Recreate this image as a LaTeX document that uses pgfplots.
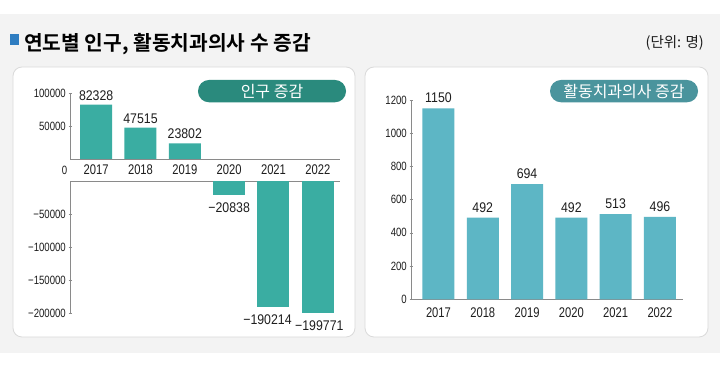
\documentclass[border=0pt]{standalone}
\usepackage{pgfplots}
\pgfplotsset{compat=1.18}
\usepackage{fontspec}
\setmainfont{Liberation Sans}
\newfontfamily\cjk{Noto Sans CJK KR}[BoldFont={Noto Sans CJK KR Bold}]
\newfontfamily\tickfam{Liberation Sans}[FakeStretch=0.8]
\newfontfamily\labfam{Liberation Sans}[FakeStretch=0.88]
\newcommand\tickf{\tickfam\fontsize{12}{12}\selectfont}
\newcommand\yearf{\tickfam\fontsize{14}{14}\selectfont}
\newcommand\labf{\labfam\fontsize{14}{14}\selectfont}

\definecolor{bgc}{HTML}{F3F3F3}
\definecolor{bord}{HTML}{DADADA}
\definecolor{tealA}{HTML}{3AADA2}
\definecolor{pillA}{HTML}{2A8A7D}
\definecolor{tealB}{HTML}{5DB6C5}
\definecolor{pillB}{HTML}{4A949D}
\definecolor{titleblue}{HTML}{2F7DC1}
\definecolor{axg}{HTML}{8A8A8A}
\definecolor{txt}{HTML}{1E1E1E}

\pgfplotsset{
  myax/.style={
    scale only axis, anchor=south west, clip=false,
    tick style={axg, line width=0.7pt},
    tick align=outside, major tick length=3pt,
    xtick style={draw=none},
    scaled y ticks=false,
    yticklabel style={font=\tickf, text=txt, inner sep=2.5pt},
    xticklabel style={font=\yearf, text=txt, anchor=north, inner sep=0pt},
    point meta=explicit symbolic,
  },
  noarrows/.style={
    axis line style={-, axg, line width=0.8pt},
    every outer x axis line/.append style={-},
    every outer y axis line/.append style={-},
    every inner x axis line/.append style={-},
    every inner y axis line/.append style={-},
    x axis line style={-}, y axis line style={-},
  },
  barA/.style={ybar, bar width=32pt, bar shift=0pt, fill=tealA, draw=none,
    nodes near coords, nodes near coords style={font=\labf, text=txt, inner sep=0pt}},
  barB/.style={ybar, bar width=32pt, bar shift=0pt, fill=tealB, draw=none,
    nodes near coords, nodes near coords style={font=\labf, text=txt, inner sep=0pt, anchor=south, yshift=5pt}},
}

\begin{document}
\begin{tikzpicture}
\path[use as bounding box] (0pt,0pt) rectangle (720pt,371pt);
\fill[white] (0pt,0pt) rectangle (720pt,371pt);
\fill[bgc] (0pt,18pt) rectangle (720pt,357pt);
\filldraw[fill=white, draw=bord, line width=0.8pt, rounded corners=9pt] (13pt,34pt) rectangle (355pt,304pt);
\filldraw[fill=white, draw=bord, line width=0.8pt, rounded corners=9pt] (365pt,34pt) rectangle (708pt,304pt);
\fill[titleblue] (10pt,326pt) rectangle (19pt,337pt);
\node[anchor=base west, inner sep=0pt, font=\cjk\bfseries\fontsize{20.3}{20.3}\selectfont, text=black] at (24pt,320.5pt) {연도별 인구, 활동치과의사 수 증감};
\node[anchor=east, inner sep=0pt, font=\cjk\fontsize{14.5}{14.5}\selectfont, text=txt] at (704pt,328pt) {(단위: 명)};
\fill[pillA, rounded corners=11pt] (198pt,268.7pt) rectangle (346pt,291pt);
\node[inner sep=0pt, font=\cjk\fontsize{16}{16}\selectfont, text=white] at (272pt,279.8pt) {인구 증감};
\fill[pillB, rounded corners=11pt] (550pt,268.7pt) rectangle (698pt,291pt);
\node[inner sep=0pt, font=\cjk\fontsize{16}{16}\selectfont, text=white] at (624pt,279.8pt) {활동치과의사 증감};

% left upper
\begin{axis}[myax, at={(70pt,212pt)}, width=270pt, height=66pt,
  xmin=-0.59, xmax=5.5, ymin=0, ymax=100000,
  axis x line=bottom, axis y line=left, noarrows,
  xtick={0,1,2,3,4,5}, xticklabels={2017,2018,2019,2020,2021,2022},
  xticklabel style={yshift=-4pt},
  ytick={50000,100000}, yticklabels={50000,100000},
  extra y ticks={0}, extra y tick labels={0},
  extra y tick style={major tick length=0pt, yticklabel style={yshift=-11pt}},
]
\addplot[barA, nodes near coords style={anchor=south, yshift=4pt}] coordinates {(0,82328)[82328] (1,47515)[47515] (2,23802)[23802]};
\end{axis}

% left lower
\begin{axis}[myax, at={(70pt,58pt)}, width=270pt, height=132pt,
  xmin=-0.59, xmax=5.5, ymin=-200000, ymax=0,
  axis x line=top, axis y line=left, noarrows,
  xtick=\empty,
  ytick={-200000,-150000,-100000,-50000},
  yticklabels={−200000,−150000,−100000,−50000},
]
\addplot[barA, nodes near coords style={anchor=north, yshift=-8pt}] coordinates {(3,-20838)[−20838]};
\addplot[barA, nodes near coords style={anchor=north, yshift=-8pt, xshift=1.5pt}] coordinates {(5,-199771)[−199771]};
\addplot[barA, nodes near coords style={anchor=north, yshift=-8pt, xshift=-6pt}] coordinates {(4,-190214)[−190214]};
\end{axis}

% right
\begin{axis}[myax, at={(411pt,71.7pt)}, width=272pt, height=199.3pt,
  xmin=-0.62, xmax=5.52, ymin=0, ymax=1200,
  axis x line=bottom, axis y line=left, noarrows,
  xtick={0,1,2,3,4,5}, xticklabels={2017,2018,2019,2020,2021,2022},
  xticklabel style={yshift=-7pt},
  ytick={0,200,400,600,800,1000,1200}, yticklabels={0,200,400,600,800,1000,1200},
]
\addplot[barB] coordinates {(0,1150)[1150] (1,492)[492] (2,694)[694] (3,492)[492] (4,513)[513] (5,496)[496]};
\end{axis}
\end{tikzpicture}
\end{document}
